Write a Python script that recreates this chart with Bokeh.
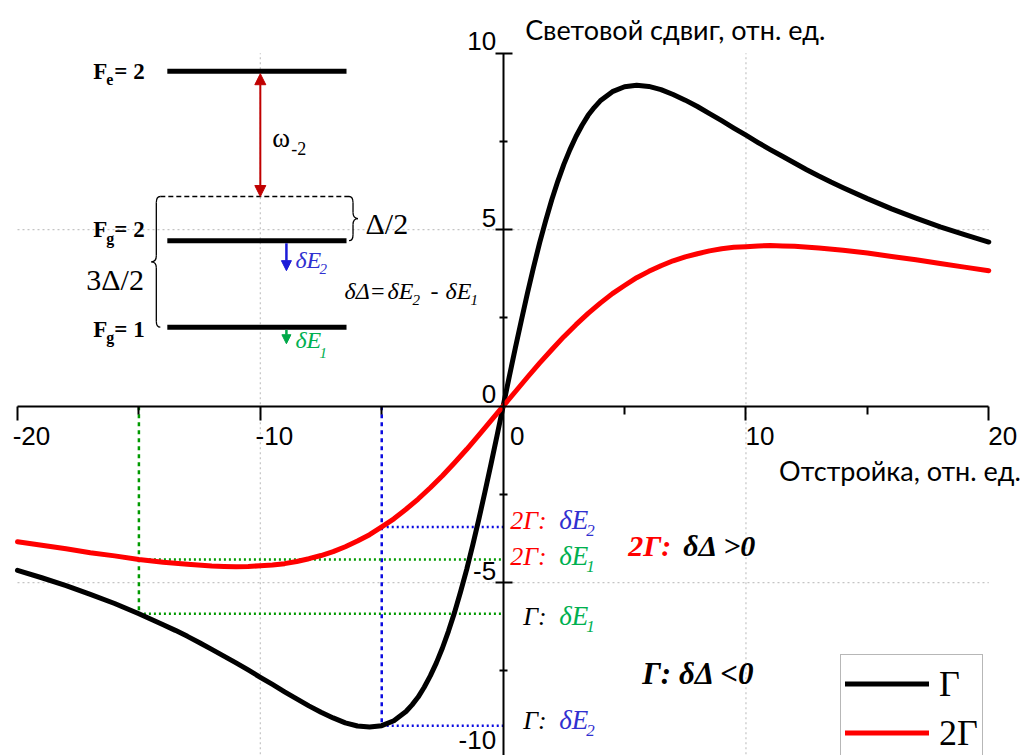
from bokeh.plotting import figure
from bokeh.models import (Range1d, LinearAxis, FixedTicker, CustomJSTickFormatter,
                          Legend, LegendItem, Arrow, NormalHead)
from bokeh.core.properties import value
from bokeh.embed import file_html
from bokeh.resources import INLINE

# ---------------------------------------------------------------------------
# Light shift (rel. units) versus detuning (rel. units) for two linewidths
# ---------------------------------------------------------------------------
detuning_g = [-20, -19, -18, -17, -16, -15, -14, -13.5, -13, -12.5, -12, -11.5,
              -11, -10.5, -10, -9.5, -9, -8.5, -8,
              -7.5, -7, -6.5, -6, -5.5, -5, -4.5, -4,
              -3.75, -3.5, -3.25, -3, -2.75, -2.5, -2.25, -2, -1.75, -1.5,
              -1.25, -1, -0.75, -0.5, -0.25, 0,
              0.25, 0.5, 0.75, 1, 1.25, 1.5, 1.75, 2, 2.25, 2.5, 2.75, 3,
              3.25, 3.5, 3.75, 4, 4.5, 5, 5.5, 6, 6.5, 7, 7.5, 8,
              8.5, 9, 9.5, 10, 10.5, 11, 11.5, 12, 12.5, 13, 13.5, 14,
              15, 16, 17, 18, 19, 20]
shift_g = [-4.65, -4.86, -5.08, -5.33, -5.59, -5.88, -6.19, -6.35, -6.52, -6.70,
           -6.89, -7.08, -7.27, -7.47, -7.68, -7.88, -8.09, -8.29, -8.49,
           -8.67, -8.83, -8.97, -9.06, -9.09, -9.05, -8.91, -8.65,
           -8.46, -8.24, -7.96, -7.64, -7.27, -6.85, -6.37, -5.84, -5.25, -4.62,
           -3.93, -3.20, -2.43, -1.64, -0.83, 0,
           0.83, 1.64, 2.43, 3.20, 3.93, 4.62, 5.25, 5.84, 6.37, 6.85, 7.27, 7.64,
           7.96, 8.24, 8.46, 8.65, 8.91, 9.05, 9.09, 9.06, 8.97, 8.83, 8.67, 8.49,
           8.29, 8.09, 7.88, 7.68, 7.47, 7.27, 7.08, 6.89, 6.70, 6.52, 6.35, 6.19,
           5.88, 5.59, 5.33, 5.08, 4.86, 4.65]

detuning_2g = [-20, -19, -18, -17, -16, -15, -14, -13, -12, -11.5, -11, -10.5,
               -10, -9.5, -9, -8.5, -8, -7.5, -7, -6.5, -6, -5.5, -5, -4.5, -4,
               -3.5, -3, -2.5, -2, -1.5, -1, -0.5, 0,
               0.5, 1, 1.5, 2, 2.5, 3, 3.5, 4, 4.5, 5, 5.5, 6, 6.5, 7, 7.5, 8,
               8.5, 9, 9.5, 10, 10.5, 11, 11.5, 12, 13, 14, 15, 16, 17, 18, 19, 20]
shift_2g = [-3.84, -3.94, -4.04, -4.15, -4.24, -4.34, -4.42, -4.48, -4.53, -4.54,
            -4.55, -4.54, -4.52, -4.50, -4.46, -4.40, -4.32, -4.23, -4.12, -3.98,
            -3.82, -3.64, -3.42, -3.19, -2.92, -2.63, -2.31, -1.97, -1.60, -1.22,
            -0.82, -0.41, 0,
            0.41, 0.82, 1.22, 1.60, 1.97, 2.31, 2.63, 2.92, 3.19, 3.42, 3.64, 3.82,
            3.98, 4.12, 4.23, 4.32, 4.40, 4.46, 4.50, 4.52, 4.54, 4.55, 4.54, 4.53,
            4.48, 4.42, 4.34, 4.24, 4.15, 4.04, 3.94, 3.84]

series_labels = ["Γ", "2Γ"]

# detunings at which the shifts of the two ground levels are compared
probe_detuning = [-15, -5]
probe_level = ["δE1", "δE2"]

x_ticks = [-20, -10, 0, 10, 20]
x_tick_labels = ["-20", "-10", "0", "10", "20"]
y_ticks = [10, 5, 0, -5, -10]
y_tick_labels = ["10", "5", "0", "-5", "-10"]
x_minor = [-15, -5, 5, 15]
y_minor = [-7.5, -2.5, 2.5, 7.5]
grid_x = [-10, 10]
grid_y = [-5, 5]

x_title = "Отстройка, отн. ед."
y_title = "Световой сдвиг, отн. ед."

# ---------------------------------------------------------------------------
W, H = 1023, 755
X_RANGE = (-20.70, 21.43)
Y_RANGE = (-9.895, 11.493)
PX_X = W / (X_RANGE[1] - X_RANGE[0])   # pixels per unit along x
PX_Y = H / (Y_RANGE[1] - Y_RANGE[0])   # pixels per unit along y

SERIF = "Liberation Serif"
SANS = "Liberation Sans"
TITLE_FONT = "Lato"
MID = 0.35   # text is anchored at its middle: shift by this many em to sit on a baseline

BLACK = "#000000"
RED = "#ff0000"
DARK_RED = "#c00000"
GUIDE_GREEN = "#009a00"
GUIDE_BLUE = "#0a0ae0"
TEXT_GREEN = "#00b050"
TEXT_BLUE = "#3030d0"
ARROW_BLUE = "#1c1cd8"
ARROW_GREEN = "#00a848"
GRID = "#c4c4c4"

p = figure(width=W, height=H, x_range=Range1d(*X_RANGE), y_range=Range1d(*Y_RANGE),
           output_backend="svg", toolbar_location=None,
           x_axis_location=None, y_axis_location=None,
           min_border=0, outline_line_color=None, background_fill_color="white")
for g in p.grid:
    g.visible = False


def note(x, y, text, size, color=BLACK, font=SERIF, style="normal",
         dx=0, dy=0, align="left"):
    """Place a text whose baseline sits dy pixels below (x, y)."""
    p.text(x=[x], y=[y], text=[text], x_offset=dx, y_offset=dy - MID * size,
           text_font=value(font), text_font_size=f"{size}px",
           text_font_style=style, text_color=color,
           text_align=align, text_baseline="middle")


# dotted grid inside the ±20 × ±10 box
p.segment(x0=grid_x, y0=[-10] * len(grid_x), x1=grid_x, y1=[10] * len(grid_x),
          line_color=GRID, line_width=1.2, line_dash="2 3")
p.segment(x0=[-20] * len(grid_y), y0=grid_y, x1=[20] * len(grid_y), y1=grid_y,
          line_color=GRID, line_width=1.2, line_dash="2 3")

# axes crossing at the origin
xaxis = LinearAxis(fixed_location=0, bounds=(-20, 20),
                   ticker=FixedTicker(ticks=[t for t in x_ticks if t != 0], minor_ticks=x_minor),
                   formatter=CustomJSTickFormatter(code="return ''"),
                   axis_line_width=2, major_tick_line_width=2, minor_tick_line_width=2,
                   major_tick_out=14, major_tick_in=0, minor_tick_out=8, minor_tick_in=0)
yaxis = LinearAxis(fixed_location=0, bounds=(-10, 10),
                   ticker=FixedTicker(ticks=[t for t in y_ticks if t != 0], minor_ticks=y_minor),
                   formatter=CustomJSTickFormatter(code="return ''"),
                   axis_line_width=2, major_tick_line_width=2, minor_tick_line_width=2,
                   major_tick_out=8, major_tick_in=9, minor_tick_out=4, minor_tick_in=4)
p.add_layout(xaxis, "below")
p.add_layout(yaxis, "left")

# tick labels
TICK_SIZE = 26
p.text(x=x_ticks, y=[0] * len(x_ticks), text=x_tick_labels,
       x_offset=14, y_offset=39 - MID * TICK_SIZE,
       text_font=value(SANS), text_font_size=f"{TICK_SIZE}px", text_align="center",
       text_baseline="middle", text_color=BLACK)
# the lowest label is lifted a little so that it stays inside the canvas
y_label_dy = [-3 - MID * TICK_SIZE if t != -10 else -10 - MID * TICK_SIZE for t in y_ticks]
p.text(x=[0] * len(y_ticks), y=y_ticks, text=y_tick_labels, x_offset=-7, y_offset=y_label_dy,
       text_font=value(SANS), text_font_size=f"{TICK_SIZE}px", text_align="right",
       text_baseline="middle", text_color=BLACK)

note(0, 10, y_title, 27, font=TITLE_FONT, dx=22, dy=-14)
note(20, 0, x_title, 27, font=TITLE_FONT, dx=32, dy=74, align="right")

# ---------------------------------------------------------------------------
# guides at the probe detunings
probe_g = [shift_g[detuning_g.index(d)] for d in probe_detuning]
probe_2g = [shift_2g[detuning_2g.index(d)] for d in probe_detuning]
guide_colors = [GUIDE_GREEN, GUIDE_BLUE]

p.segment(x0=probe_detuning, y0=[0, 0], x1=probe_detuning, y1=probe_g,
          line_color=guide_colors, line_width=2.5, line_dash="4 4")
p.segment(x0=probe_detuning * 2, y0=probe_g + probe_2g, x1=[0] * 4, y1=probe_g + probe_2g,
          line_color=guide_colors * 2, line_width=2.5, line_dash="2 3")

# curves
r_g = p.line(detuning_g, shift_g, line_color=BLACK, line_width=5,
             line_cap="round", line_join="round")
r_2g = p.line(detuning_2g, shift_2g, line_color=RED, line_width=5,
              line_cap="round", line_join="round")

# labels next to the guides
level_color = {"δE1": TEXT_GREEN, "δE2": TEXT_BLUE}
for d, y2, yg, lvl in zip(probe_detuning, probe_2g, probe_g, probe_level):
    dy2 = 3 if lvl == "δE2" else 6
    note(0, y2, "2Γ:", 26, RED, style="italic", dx=7, dy=dy2)
    note(0, y2, "δE", 27, level_color[lvl], style="italic", dx=56, dy=dy2)
    note(0, y2, lvl[-1], 17, level_color[lvl], style="italic", dx=83, dy=dy2 + 7)
    dyg = 4 if lvl == "δE2" else 12
    note(0, yg, "Γ:", 26, BLACK, style="italic", dx=20, dy=dyg)
    note(0, yg, "δE", 27, level_color[lvl], style="italic", dx=56, dy=dyg)
    note(0, yg, lvl[-1], 17, level_color[lvl], style="italic", dx=83, dy=dyg + 7)

note(0, -5, "2Γ:", 30, RED, style="bold italic", dx=125, dy=-27)
note(0, -5, "δΔ >0", 30, BLACK, style="bold italic", dx=180, dy=-27)
note(0, -5, "Γ: δΔ <0", 31, BLACK, style="bold italic", dx=139, dy=102)

# ---------------------------------------------------------------------------
# level scheme
LEVEL_X0, LEVEL_X1 = -13.83, -6.45
FE2, VIRTUAL, FG2, FG1 = 9.49, 5.94, 4.69, 2.24
ARROW_X = -8.925

p.segment(x0=[LEVEL_X0] * 3, y0=[FE2, FG2, FG1], x1=[LEVEL_X1] * 3, y1=[FE2, FG2, FG1],
          line_color=BLACK, line_width=5)

hook, rad, tip = 4 / PX_X, 6 / PX_Y, 5 / PX_X
xl = LEVEL_X0 - 11 / PX_X          # left brace spine
xr = LEVEL_X1 + 6.5 / PX_X         # right brace spine
p.segment(x0=[xl + hook], y0=[VIRTUAL], x1=[xr - hook], y1=[VIRTUAL],
          line_color=BLACK, line_width=1.3, line_dash="5 3")


def brace(xs, y_top, y_bot, side):
    """Curly brace with its spine at xs; side=-1 points left, +1 points right."""
    ym = (y_top + y_bot) / 2
    h = -side * hook
    t = side * tip
    p.quadratic(x0=[xs + h, xs, xs + t, xs],
                y0=[y_top, ym + rad, ym, y_bot + rad],
                x1=[xs, xs + t, xs, xs + h],
                y1=[y_top - rad, ym, ym - rad, y_bot],
                cx=[xs, xs, xs, xs], cy=[y_top, ym, ym, y_bot],
                line_color=BLACK, line_width=1.3)
    p.segment(x0=[xs, xs], y0=[y_top - rad, ym - rad], x1=[xs, xs], y1=[ym + rad, y_bot + rad],
              line_color=BLACK, line_width=1.3)


brace(xl, VIRTUAL, FG1, -1)
brace(xr, VIRTUAL, FG2, +1)

half = 2.5 / PX_Y
p.add_layout(Arrow(start=NormalHead(size=11, fill_color=DARK_RED, line_color=DARK_RED),
                   end=NormalHead(size=11, fill_color=DARK_RED, line_color=DARK_RED),
                   x_start=-10, y_start=VIRTUAL, x_end=-10, y_end=FE2 - half,
                   line_color=DARK_RED, line_width=2))
p.add_layout(Arrow(end=NormalHead(size=10, fill_color=ARROW_BLUE, line_color=ARROW_BLUE),
                   x_start=ARROW_X, y_start=FG2 - half, x_end=ARROW_X, y_end=3.84,
                   line_color=ARROW_BLUE, line_width=2.5))
p.add_layout(Arrow(end=NormalHead(size=9, fill_color=ARROW_GREEN, line_color=ARROW_GREEN),
                   x_start=ARROW_X, y_start=FG1 - half, x_end=ARROW_X, y_end=1.77,
                   line_color=ARROW_GREEN, line_width=2.5))

# level names
for y, sub, num, dy in [(FE2, "e", "= 2", 8), (FG2, "g", "= 2", -3), (FG1, "g", "= 1", 10)]:
    note(LEVEL_X0, y, "F", 23, style="bold", dx=-74, dy=dy)
    note(LEVEL_X0, y, sub, 16, style="bold", dx=-61, dy=dy + 6)
    note(LEVEL_X0, y, num, 23, style="bold", dx=-53, dy=dy)

note(-10, FE2, "ω", 27, dx=12, dy=76)
note(-10, FE2, "-2", 18, dx=31, dy=84)
note(LEVEL_X1, VIRTUAL, "Δ/2", 30, dx=19, dy=37)
note(LEVEL_X0, FG2, "3Δ/2", 30, dx=-81, dy=49)

note(ARROW_X, FG2, "δE", 24, TEXT_BLUE, style="italic", dx=9, dy=28)
note(ARROW_X, FG2, "2", 15, TEXT_BLUE, style="italic", dx=33, dy=34)
note(ARROW_X, FG1, "δE", 24, TEXT_GREEN, style="italic", dx=9, dy=21)
note(ARROW_X, FG1, "1", 15, TEXT_GREEN, style="italic", dx=33, dy=31)

note(LEVEL_X1, FG2, "δΔ", 24, style="italic", dx=-2, dy=59)
note(LEVEL_X1, FG2, "=", 24, style="italic", dx=23, dy=59)
note(LEVEL_X1, FG2, "δE", 24, style="italic", dx=41, dy=59)
note(LEVEL_X1, FG2, "2", 15, style="italic", dx=66, dy=65)
note(LEVEL_X1, FG2, "-", 24, style="italic", dx=84, dy=59)
note(LEVEL_X1, FG2, "δE", 24, style="italic", dx=99, dy=59)
note(LEVEL_X1, FG2, "1", 15, style="italic", dx=124, dy=65)

# ---------------------------------------------------------------------------
legend = Legend(items=[LegendItem(label=series_labels[0], renderers=[r_g]),
                       LegendItem(label=series_labels[1], renderers=[r_2g])],
                location=(840, -7), orientation="vertical",
                label_text_font=SERIF, label_text_font_size="36px", label_text_color=BLACK,
                glyph_width=84, glyph_height=49, label_height=49, label_standoff=10,
                padding=4, spacing=0, margin=0,
                border_line_color="#707070", border_line_width=1.3,
                background_fill_color="white", background_fill_alpha=1)
p.add_layout(legend)

open("out.html", "w").write(file_html(p, INLINE))
